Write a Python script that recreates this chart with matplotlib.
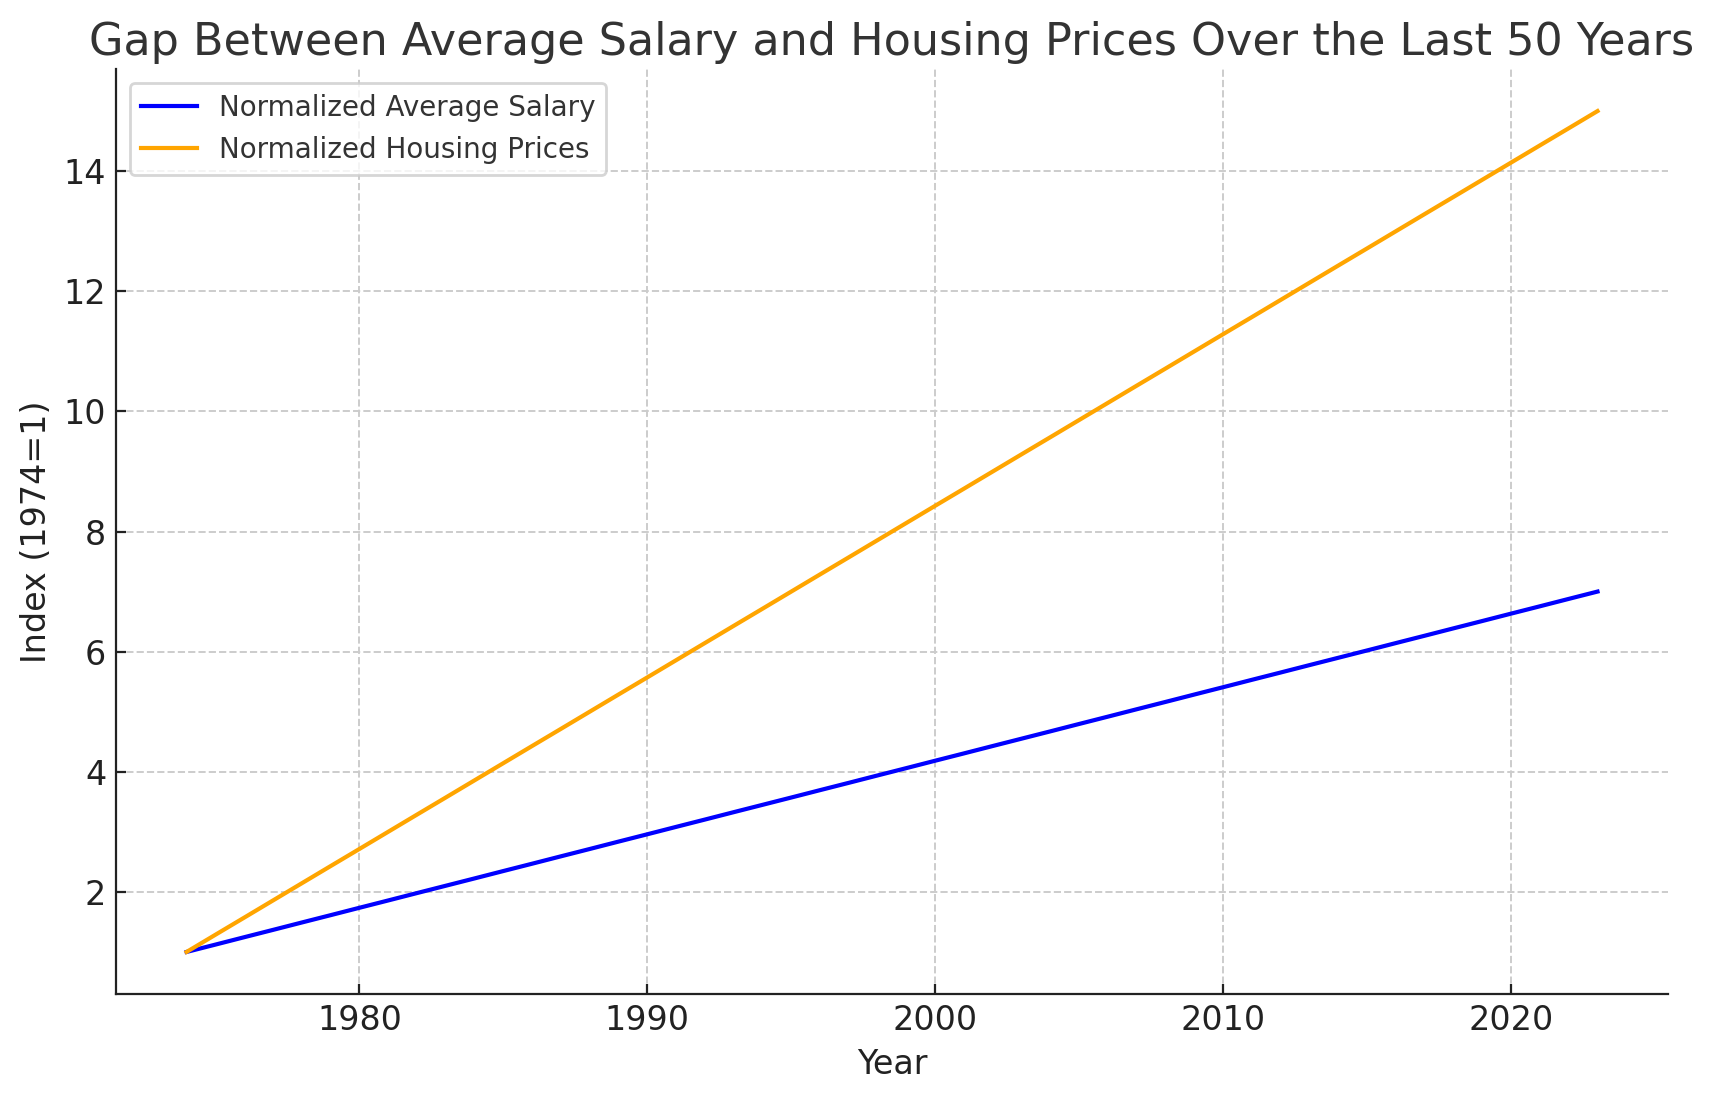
import matplotlib
matplotlib.use("Agg")
import matplotlib.pyplot as plt

years = list(range(1974, 2024))
salary = [1.000, 1.122, 1.245, 1.367, 1.490, 1.612, 1.735, 1.857, 1.980, 2.102,
          2.224, 2.347, 2.469, 2.592, 2.714, 2.837, 2.959, 3.082, 3.204, 3.327,
          3.449, 3.571, 3.694, 3.816, 3.939, 4.061, 4.184, 4.306, 4.429, 4.551,
          4.673, 4.796, 4.918, 5.041, 5.163, 5.286, 5.408, 5.531, 5.653, 5.776,
          5.898, 6.020, 6.143, 6.265, 6.388, 6.510, 6.633, 6.755, 6.878, 7.000]
housing = [1.000, 1.286, 1.571, 1.857, 2.143, 2.429, 2.714, 3.000, 3.286, 3.571,
           3.857, 4.143, 4.429, 4.714, 5.000, 5.286, 5.571, 5.857, 6.143, 6.429,
           6.714, 7.000, 7.286, 7.571, 7.857, 8.143, 8.429, 8.714, 9.000, 9.286,
           9.571, 9.857, 10.143, 10.429, 10.714, 11.000, 11.286, 11.571, 11.857, 12.143,
           12.429, 12.714, 13.000, 13.286, 13.571, 13.857, 14.143, 14.429, 14.714, 15.000]

plt.rcParams['font.family'] = ['DejaVu Sans']
fig = plt.figure(figsize=(8.57, 5.505), dpi=200)
ax = fig.add_axes([0.0677, 0.0972, 0.9055, 0.8401])

ax.plot(years, salary, color='blue', lw=1.5, label='Normalized Average Salary')
ax.plot(years, housing, color='orange', lw=1.5, label='Normalized Housing Prices')

ax.set_title('Gap Between Average Salary and Housing Prices Over the Last 50 Years',
             fontsize=16, color='#333333', pad=5)
ax.set_xlabel('Year', fontsize=12, color='#222222')
ax.set_ylabel('Index (1974=1)', fontsize=12, color='#222222')
ax.tick_params(labelsize=12, colors='#222222', length=3.5, direction='in')
ax.grid(True, linestyle='--', color='#cccccc', linewidth=0.7)
for s in ['top', 'right']:
    ax.spines[s].set_visible(False)
for s in ['left', 'bottom']:
    ax.spines[s].set_color('#222222')
leg = ax.legend(loc='upper left', fontsize=10, framealpha=0.8, edgecolor='#cccccc')
for t in leg.get_texts():
    t.set_color('#333333')

fig.savefig('out.png', dpi=200)
